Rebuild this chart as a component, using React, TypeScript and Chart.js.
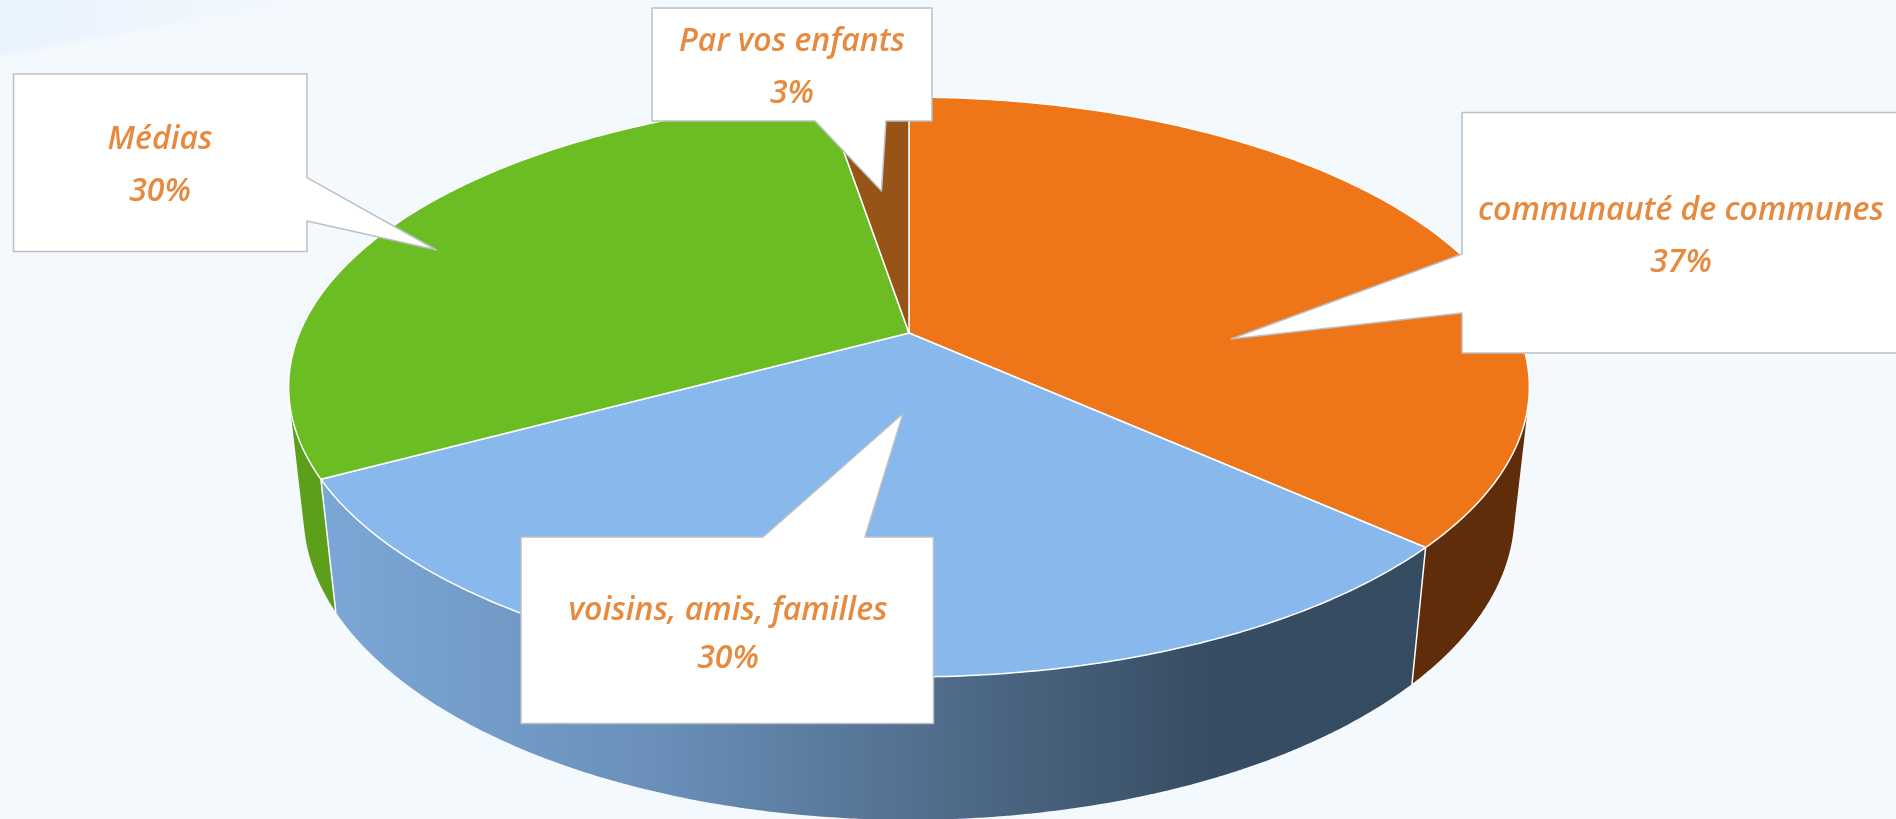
import React, { useEffect, useRef } from "react";
import { Chart, registerables } from "chart.js";

Chart.register(...registerables);

const categories = ["communauté de communes", "voisins, amis, familles", "Médias", "Par vos enfants"];
const shares = [36.7, 30.4, 30.3, 2.6];
const topColors = ["#ee7619", "#89b9ec", "#6cbd23", "#985316"];
const wallColors = ["#5f2d0a", "", "#5c9f1b", "#6b3a0f"];

// Perspective projection of the pie (screen pixels)
const CX = 909, CY = 333, PX = 609.5, PY = 279.9, PC = -0.1862, WALL_Y = 127.8, WALL_E = 0.0237, WALL_X = 0;
const project = (theta: number, bottom: boolean) => {
  const u = Math.sin(theta), v = -Math.cos(theta);
  const w = 1 + PC * v + (bottom ? WALL_E : 0);
  return {
    x: CX + (PX * u + (bottom ? WALL_X : 0)) / w,
    y: CY + (PY * v + (bottom ? WALL_Y : 0)) / w,
  };
};

type Box = { x0: number; y0: number; x1: number; y1: number; side: string; a: number[]; tip: number[]; b: number[]; cx: number; base1: number; base2: number };
const boxes: Box[] = [
  { x0: 1462, y0: 112.5, x1: 1902, y1: 353, side: "left", a: [1462, 254], tip: [1231, 339], b: [1462, 313], cx: 1681, base1: 220, base2: 272 },
  { x0: 521, y0: 537, x1: 933.5, y1: 723.5, side: "top", a: [763, 537], tip: [903, 413.5], b: [865, 537], cx: 728, base1: 620, base2: 668 },
  { x0: 13.5, y0: 74, x1: 307, y1: 251.5, side: "right", a: [307, 177.7], tip: [436.5, 250], b: [307, 221], cx: 160, base1: 149, base2: 201 },
  { x0: 652, y0: 8, x1: 932, y1: 121, side: "bottom", a: [886, 121], tip: [881.5, 191], b: [815, 121], cx: 792, base1: 51, base2: 103 },
];

const background = {
  id: "background",
  beforeDraw(chart: any) {
    const { ctx, width, height } = chart;
    ctx.save();
    ctx.fillStyle = "#f4f9fd";
    ctx.fillRect(0, 0, width, height);
    const g = ctx.createLinearGradient(0, 0, 300, 0);
    g.addColorStop(0, "#e9f3fd");
    g.addColorStop(1, "#f2f8fd");
    ctx.filter = "blur(2px)";
    ctx.fillStyle = g;
    ctx.beginPath();
    ctx.moveTo(-10, -10);
    ctx.lineTo(298, -10);
    ctx.lineTo(298, 0);
    ctx.lineTo(0, 56);
    ctx.lineTo(-10, 58);
    ctx.closePath();
    ctx.fill();
    ctx.filter = "none";
    ctx.restore();
  },
};

const pie3d = {
  id: "pie3d",
  beforeDatasetsDraw(chart: any) {
    const ctx = chart.ctx;
    const arcs = chart.getDatasetMeta(0).data.map((arc: any, i: number) => ({
      i,
      a: arc.startAngle + Math.PI / 2,
      b: arc.endAngle + Math.PI / 2,
    }));
    const rim = (a: number, b: number, bottom: boolean) => {
      const n = Math.max(2, Math.ceil(Math.abs(b - a) / 0.01));
      for (let k = 0; k <= n; k++) {
        const p = project(a + ((b - a) * k) / n, bottom);
        ctx.lineTo(p.x, p.y);
      }
    };
    // signed area of a wall strip, to keep only the strips that face the viewer
    const area = (t0: number, t1: number) => {
      const pts = [project(t0, false), project(t1, false), project(t1, true), project(t0, true)];
      let s = 0;
      for (let i = 0; i < 4; i++) {
        const p = pts[i], q = pts[(i + 1) % 4];
        s += p.x * q.y - q.x * p.y;
      }
      return s;
    };
    const frontSign = Math.sign(area(Math.PI, Math.PI + 0.01));
    ctx.save();
    ctx.lineJoin = "round";
    // walls
    const wallGradient = ctx.createLinearGradient(321, 0, 1425, 0);
    wallGradient.addColorStop(0, "#7ba7d6");
    wallGradient.addColorStop(0.3, "#6a90ba");
    wallGradient.addColorStop(0.6, "#4c6784");
    wallGradient.addColorStop(0.8, "#374d63");
    wallGradient.addColorStop(1, "#354b60");
    [arcs[3], arcs[2], arcs[0], arcs[1]].forEach((s: any) => {
      const n = Math.max(2, Math.ceil((s.b - s.a) / 0.01));
      ctx.beginPath();
      for (let k = 0; k < n; k++) {
        const t0 = s.a + ((s.b - s.a) * k) / n;
        const t1 = s.a + ((s.b - s.a) * Math.min(k + 1.2, n)) / n;
        if (Math.sign(area(t0, t1)) !== frontSign) continue;
        const p0 = project(t0, false), p1 = project(t1, false), p2 = project(t1, true), p3 = project(t0, true);
        ctx.moveTo(p0.x, p0.y);
        ctx.lineTo(p1.x, p1.y);
        ctx.lineTo(p2.x, p2.y);
        ctx.lineTo(p3.x, p3.y);
        ctx.closePath();
      }
      ctx.fillStyle = s.i === 1 ? wallGradient : wallColors[s.i];
      ctx.fill();
    });
    // visible wall seams
    ctx.strokeStyle = "#ffffff";
    ctx.lineWidth = 1.5;
    arcs.forEach((s: any) => {
      if (-Math.cos(s.a) > 0) {
        const p = project(s.a, false), q = project(s.a, true);
        ctx.beginPath();
        ctx.moveTo(p.x, p.y);
        ctx.lineTo(q.x, q.y);
        ctx.stroke();
      }
    });
    // top faces
    arcs.forEach((s: any) => {
      ctx.beginPath();
      ctx.moveTo(CX, CY);
      rim(s.a, s.b, false);
      ctx.closePath();
      ctx.fillStyle = topColors[s.i];
      ctx.fill();
      ctx.stroke();
    });
    ctx.restore();
    return false;
  },
};

const callouts = {
  id: "callouts",
  afterDraw(chart: any) {
    const ctx = chart.ctx;
    ctx.save();
    ctx.lineJoin = "round";
    boxes.forEach((b, i) => {
      ctx.beginPath();
      ctx.moveTo(b.x0, b.y0);
      if (b.side === "top") { ctx.lineTo(b.a[0], b.a[1]); ctx.lineTo(b.tip[0], b.tip[1]); ctx.lineTo(b.b[0], b.b[1]); }
      ctx.lineTo(b.x1, b.y0);
      if (b.side === "right") { ctx.lineTo(b.a[0], b.a[1]); ctx.lineTo(b.tip[0], b.tip[1]); ctx.lineTo(b.b[0], b.b[1]); }
      ctx.lineTo(b.x1, b.y1);
      if (b.side === "bottom") { ctx.lineTo(b.a[0], b.a[1]); ctx.lineTo(b.tip[0], b.tip[1]); ctx.lineTo(b.b[0], b.b[1]); }
      ctx.lineTo(b.x0, b.y1);
      if (b.side === "left") { ctx.lineTo(b.b[0], b.b[1]); ctx.lineTo(b.tip[0], b.tip[1]); ctx.lineTo(b.a[0], b.a[1]); }
      ctx.closePath();
      ctx.fillStyle = "#ffffff";
      ctx.fill();
      ctx.strokeStyle = "#bcbfc3";
      ctx.lineWidth = 1.5;
      ctx.stroke();
      ctx.fillStyle = "#e58a3e";
      ctx.textAlign = "center";
      ctx.textBaseline = "alphabetic";
      ctx.font = 'italic 600 32px "Open Sans"';
      ctx.fillText(categories[i], b.cx, b.base1);
      ctx.fillText(`${Math.round(shares[i])}%`, b.cx, b.base2);
    });
    ctx.restore();
  },
};

export default function App() {
  const ref = useRef<HTMLCanvasElement | null>(null);
  useEffect(() => {
    document.body.style.margin = "0";
    document.body.style.overflow = "hidden";
    const chart = new Chart(ref.current as HTMLCanvasElement, {
      type: "pie",
      data: { labels: categories, datasets: [{ data: shares, backgroundColor: topColors, borderWidth: 0 }] },
      options: {
        responsive: false,
        animation: false,
        plugins: { legend: { display: false }, tooltip: { enabled: false } },
      },
      plugins: [background, pie3d, callouts],
    } as any);
    return () => chart.destroy();
  }, []);
  return <canvas ref={ref} width={1896} height={819} style={{ display: "block" }} />;
}
